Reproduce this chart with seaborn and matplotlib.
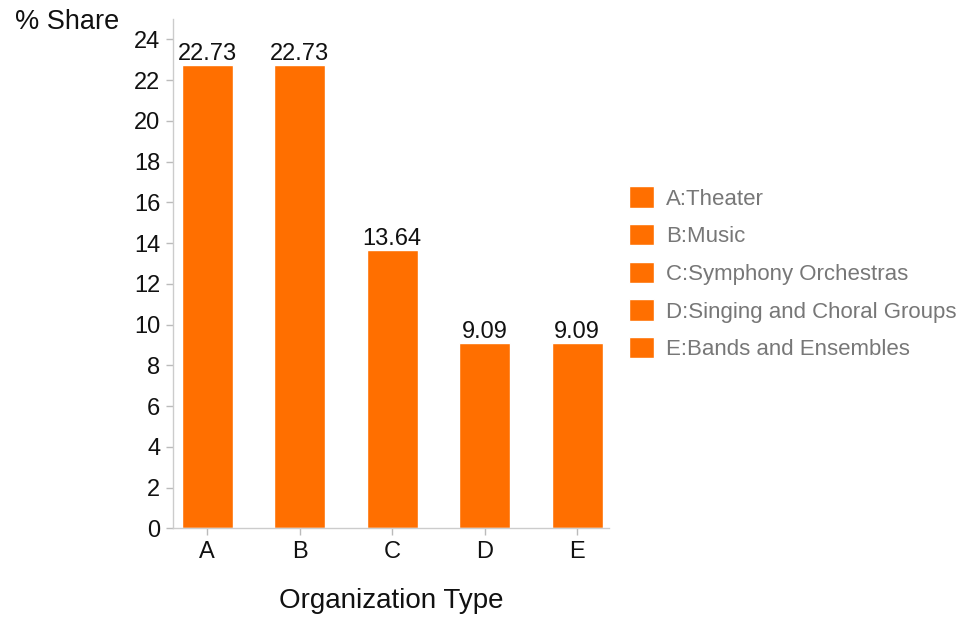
import pandas as pd
import matplotlib.pyplot as plt
import seaborn as sns

# Chart data
codes = ["A", "B", "C", "D", "E"]
labels = ["A:Theater", "B:Music", "C:Symphony Orchestras",
          "D:Singing and Choral Groups", "E:Bands and Ensembles"]
share = [22.73, 22.73, 13.64, 9.09, 9.09]
y_ticks = list(range(0, 25, 2))

orange = "#ff6f00"

sns.set_theme(style="white")
plt.rcParams['font.family'] = ['Liberation Sans', 'DejaVu Sans']

df = pd.DataFrame({"code": codes, "label": labels, "share": share})

fig = plt.figure(figsize=(9.63, 6.19), dpi=100)
ax = fig.add_axes([0.1793, 0.1465, 0.4531, 0.823])

sns.barplot(data=df, x="code", y="share", hue="label", palette=[orange] * 5,
            dodge=False, width=0.553, saturation=1, ax=ax)

# value labels on top of bars
for c in ax.containers:
    ax.bar_label(c, fmt="%.2f", fontsize=17, color="#111", padding=0)

ax.set_ylim(0, 25)
ax.set_xlim(-0.373, 4.344)
ax.set_yticks(y_ticks)
ax.tick_params(axis="both", labelsize=17, labelcolor="#111", color="#bbbbbb",
               length=5, width=1, pad=4, bottom=True, left=True)

for s in ["top", "right"]:
    ax.spines[s].set_visible(False)
for s in ["left", "bottom"]:
    ax.spines[s].set_color("#cccccc")
    ax.spines[s].set_linewidth(1)

ax.set_xlabel("Organization Type", fontsize=20, color="#111", labelpad=18)
ax.set_ylabel("% Share", fontsize=19.5, color="#111", rotation=0,
              ha="right", va="center")
ax.yaxis.set_label_coords(-0.123, 0.994)

leg = ax.legend(loc="upper left", bbox_to_anchor=(1.046, 0.671), frameon=False,
                fontsize=16, handlelength=1.1, handleheight=1.1,
                handletextpad=0.55, labelspacing=0.65,
                borderpad=0, borderaxespad=0)
for t in leg.get_texts():
    t.set_color("#777777")

fig.savefig("out.png", dpi=100)
